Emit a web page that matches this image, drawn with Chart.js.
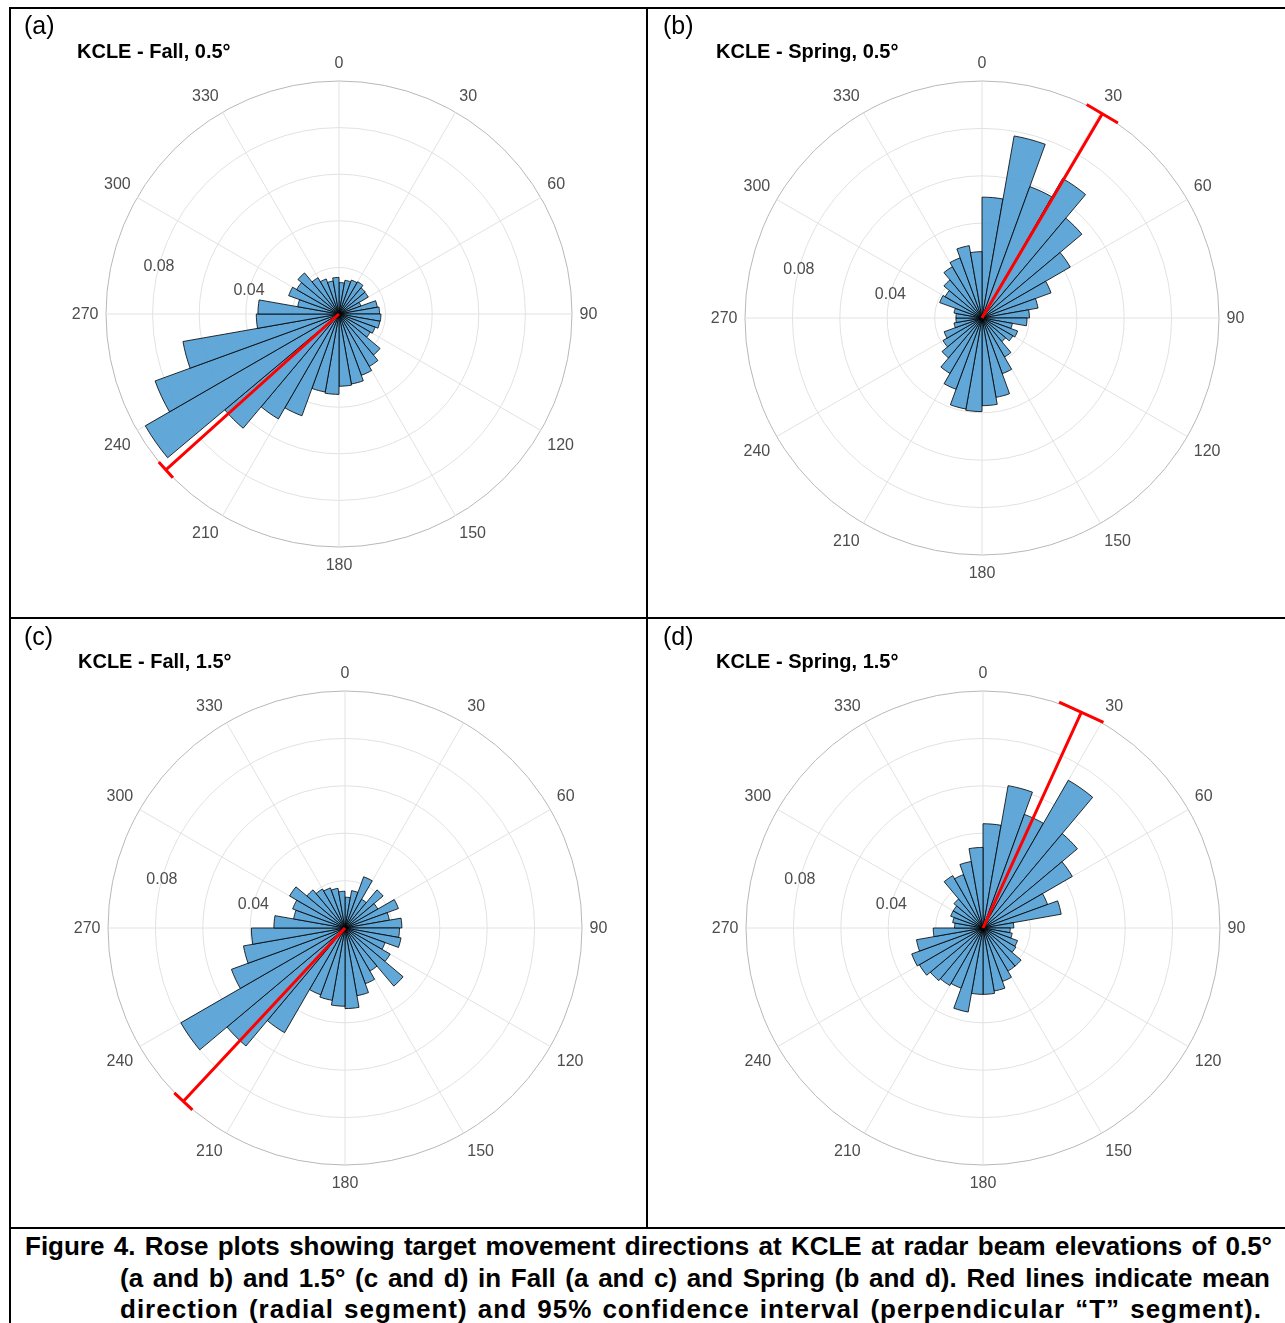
<!DOCTYPE html>
<html>
<head>
<meta charset="utf-8">
<script src="https://cdn.jsdelivr.net/npm/chart.js@4.4.1/dist/chart.umd.min.js"></script>
<style>
  body { margin: 0; background: #fff; }
  #page { position: relative; width: 1285px; height: 1323px; overflow: hidden; font-family: "Liberation Sans", Arial, sans-serif; color: #000; }
  .rule { position: absolute; background: #000; }
  canvas { position: absolute; }
  .lbl { position: absolute; white-space: nowrap; transform: translateY(-50%); }
  .tag { font-size: 25px; }
  .ttl { font-size: 20px; font-weight: bold; }
  #caption { position: absolute; left: 25px; top: 1231px; font-size: 26px; font-weight: bold; line-height: 31.5px; }
  #caption div { text-align: justify; text-align-last: justify; }
</style>
</head>
<body>
<div id="page">
  <div class="rule" style="left:9px; top:7px; width:1276px; height:2px"></div>
  <div class="rule" style="left:9px; top:7px; width:2px; height:1316px"></div>
  <div class="rule" style="left:646px; top:7px; width:2px; height:1222px"></div>
  <div class="rule" style="left:9px; top:617px; width:1276px; height:2px"></div>
  <div class="rule" style="left:9px; top:1227px; width:1276px; height:2px"></div>

  <canvas id="chartA" width="636" height="608" style="left:11px; top:9px"></canvas>
  <canvas id="chartB" width="636" height="608" style="left:649px; top:9px"></canvas>
  <canvas id="chartC" width="636" height="608" style="left:11px; top:619px"></canvas>
  <canvas id="chartD" width="636" height="608" style="left:649px; top:619px"></canvas>

  <div class="lbl tag" style="left:24px; top:25px">(a)</div>
  <div class="lbl tag" style="left:663px; top:25px">(b)</div>
  <div class="lbl tag" style="left:24px; top:636px">(c)</div>
  <div class="lbl tag" style="left:663px; top:636px">(d)</div>
  <div class="lbl ttl" style="left:77px; top:51px">KCLE - Fall, 0.5°</div>
  <div class="lbl ttl" style="left:716px; top:51px">KCLE - Spring, 0.5°</div>
  <div class="lbl ttl" style="left:78px; top:661px">KCLE - Fall, 1.5°</div>
  <div class="lbl ttl" style="left:716px; top:661px">KCLE - Spring, 1.5°</div>

  <div id="caption">
    <div style="width:1247px">Figure 4. Rose plots showing target movement directions at KCLE at radar beam elevations of 0.5°</div>
    <div style="margin-left:95px; width:1150px">(a and b) and 1.5° (c and d) in Fall (a and c) and Spring (b and d). Red lines indicate mean</div>
    <div style="margin-left:95px; width:1142px; letter-spacing:1px">direction (radial segment) and 95% confidence interval (perpendicular “T” segment).</div>
  </div>
</div>

<script>
// 10 degree bins, clockwise from north
const binStarts = [0,10,20,30,40,50,60,70,80,90,100,110,120,130,140,150,160,170,
                   180,190,200,210,220,230,240,250,260,270,280,290,300,310,320,330,340,350];

// proportion of targets in each bin
const fall05 = [0.0135,0.0147,0.0155,0.016,0.0147,0.0145,0.010,0.0167,0.0174,0.018,0.0178,0.0165,
                0.0155,0.023,0.026,0.028,0.0305,0.031,0.0345,0.034,0.0465,0.052,0.064,0.096,
                0.084,0.068,0.0355,0.0348,0.018,0.023,0.021,0.023,0.018,0.016,0.0144,0.0157];
const spring05 = [0.051,0.078,0.059,0.068,0.055,0.043,0.031,0.024,0.020,0.019,0.013,0.016,
                  0.015,0.013,0.019,0.025,0.034,0.037,0.0395,0.039,0.032,0.027,0.022,0.019,
                  0.017,0.012,0.011,0.011,0.012,0.019,0.018,0.021,0.025,0.027,0.031,0.028];
const fall15 = [0.013,0.016,0.023,0.014,0.021,0.016,0.024,0.019,0.024,0.023,0.024,0.018,
                0.022,0.032,0.021,0.025,0.029,0.034,0.033,0.031,0.030,0.051,0.065,0.080,
                0.051,0.0435,0.0395,0.030,0.022,0.0235,0.027,0.021,0.019,0.018,0.017,0.0155];
const spring15 = [0.044,0.061,0.051,0.072,0.052,0.0435,0.029,0.0335,0.013,0.0115,0.0125,0.0155,
                  0.016,0.021,0.021,0.024,0.027,0.028,0.028,0.036,0.027,0.028,0.029,0.031,
                  0.032,0.0285,0.021,0.012,0.013,0.0145,0.0145,0.016,0.0255,0.024,0.0285,0.034];

// mean direction and half width of 95% CI (degrees), order a, b, c, d
const meanDir = [228, 30.5, 223, 24.5];
const ciHalf = [2.6, 4.4, 3.0, 5.9];

const angleTicks = [0,30,60,90,120,150,180,210,240,270,300,330];
const radialTicks = [0.04, 0.08];
const radialMax = 0.1;
const radialStep = 0.02;

const rad = d => d * Math.PI / 180;
const sgn = v => (Math.abs(v) < 1e-9 ? 0 : Math.sign(v));

// labels, ticks and the red mean line
const roseDecor = {
  id: 'roseDecor',
  afterDatasetsDraw(chart, args, opts) {
    const sc = chart.scales.r;
    const ctx = chart.ctx;
    const cx = sc.xCenter, cy = sc.yCenter;
    const R = sc.getDistanceFromCenterForValue(radialMax);

    const a = rad(opts.mean - 90);
    const ex = cx + R * Math.cos(a), ey = cy + R * Math.sin(a);
    const half = R * Math.sin(rad(opts.ci));
    ctx.save();
    ctx.strokeStyle = '#ff0000';
    ctx.lineWidth = 3;
    ctx.beginPath();
    ctx.moveTo(cx, cy);
    ctx.lineTo(ex, ey);
    ctx.moveTo(ex + half * Math.sin(a), ey - half * Math.cos(a));
    ctx.lineTo(ex - half * Math.sin(a), ey + half * Math.cos(a));
    ctx.stroke();

    // angle labels: box corner nearest the circle sits just outside it
    ctx.font = '16px "Liberation Sans", Arial, sans-serif';
    ctx.fillStyle = '#4d4d4d';
    ctx.textAlign = 'center';
    ctx.textBaseline = 'middle';
    angleTicks.forEach(t => {
      const txt = String(t);
      const w = ctx.measureText(txt).width;
      const s = Math.sin(rad(t)), c = Math.cos(rad(t));
      const d = R + 7.5;
      ctx.fillText(txt, cx + d * s + sgn(s) * w / 2, cy - d * c - sgn(c) * 10.5 + 1);
    });
    radialTicks.forEach(v => {
      const d = sc.getDistanceFromCenterForValue(v);
      ctx.fillText(v.toFixed(2), cx + d * Math.sin(rad(285)), cy - d * Math.cos(rad(285)) + 1);
    });
    ctx.restore();
  }
};

function makeRose(id, values, idx, pad) {
  new Chart(document.getElementById(id), {
    type: 'polarArea',
    data: {
      labels: binStarts,
      datasets: [{
        data: values,
        backgroundColor: 'rgba(84,160,212,0.92)',
        borderColor: '#000',
        borderWidth: 0.8
      }]
    },
    options: {
      responsive: false,
      animation: false,
      layout: { padding: pad },
      plugins: {
        legend: { display: false },
        tooltip: { enabled: false },
        roseDecor: { mean: meanDir[idx], ci: ciHalf[idx] }
      },
      scales: {
        r: {
          min: 0,
          max: radialMax,
          startAngle: 0,
          ticks: { display: false, stepSize: radialStep },
          pointLabels: { display: false },
          grid: {
            circular: true,
            lineWidth: 1,
            color: c => Math.abs(c.tick.value - radialMax) < 1e-9 ? '#b8b8b8' : '#e2e2e2'
          },
          angleLines: {
            display: true,
            color: '#e2e2e2',
            lineWidth: c => (c.index % 3 === 0 ? 1 : 0)
          }
        }
      }
    },
    plugins: [roseDecor]
  });
}

makeRose('chartA', fall05, 0, { left: 95, top: 72, right: 75, bottom: 70 });
makeRose('chartB', spring05, 1, { left: 96, top: 72, right: 66, bottom: 62 });
makeRose('chartC', fall15, 2, { left: 97, top: 72, right: 65, bottom: 62 });
makeRose('chartD', spring15, 3, { left: 97, top: 72, right: 65, bottom: 62 });
</script>
</body>
</html>
